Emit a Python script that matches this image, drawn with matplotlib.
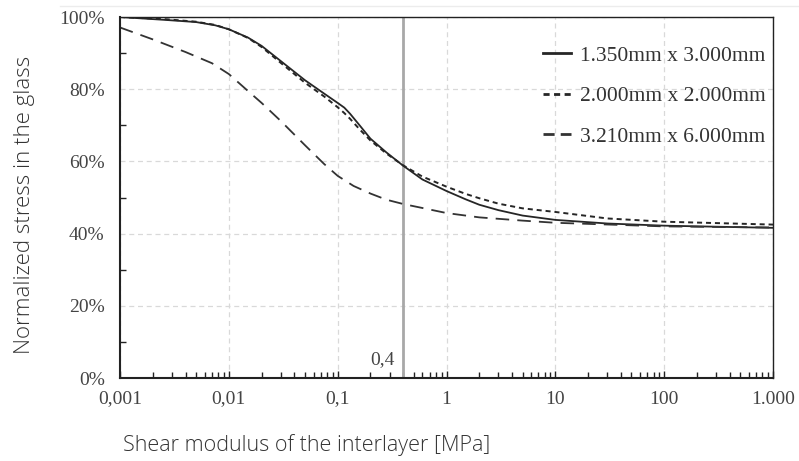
import matplotlib
matplotlib.use('Agg')
import matplotlib.pyplot as plt
from matplotlib.ticker import FixedLocator, LogLocator, NullFormatter
from matplotlib.lines import Line2D

# shear modulus of the interlayer [MPa]
g_ab = [0.001, 0.0026, 0.005, 0.0075, 0.01, 0.015, 0.02, 0.03, 0.05, 0.075, 0.1,
        0.115, 0.13, 0.16, 0.2, 0.28, 0.4, 0.6, 1, 1.5, 2, 3, 5, 10, 30, 100, 1000]
# normalized stress in the glass [%]
s_135x300 = [100, 99.2, 98.6, 97.7, 96.6, 94.3, 92.0, 87.8, 82.5, 78.8, 76.2,
             74.9, 73.2, 69.9, 66.3, 62.5, 58.8, 55.0, 51.8, 49.5, 48.0, 46.5,
             45.0, 43.8, 42.8, 42.2, 41.6]
s_200x200 = [100, 99.4, 98.7, 97.8, 96.6, 94.2, 91.7, 87.3, 81.8, 78.0, 75.0,
             73.4, 71.8, 68.8, 65.8, 62.2, 58.9, 55.8, 53.0, 51.0, 49.8, 48.3,
             47.0, 46.0, 44.2, 43.3, 42.5]
g_c = [0.001, 0.002, 0.004, 0.007, 0.01, 0.015, 0.02, 0.03, 0.05, 0.075, 0.1,
       0.14, 0.2, 0.28, 0.4, 0.6, 1, 2, 5, 10, 100, 1000]
s_321x600 = [97.1, 93.8, 90.3, 87.2, 84.2, 79.5, 76.2, 71.2, 64.5, 59.3, 56.0,
             53.2, 51.1, 49.4, 48.2, 47.1, 45.7, 44.5, 43.6, 43.0, 42.0, 41.7]

labels = ['1.350mm x 3.000mm', '2.000mm x 2.000mm', '3.210mm x 6.000mm']
x_ticks = [0.001, 0.01, 0.1, 1, 10, 100, 1000]
x_ticklabels = ['0,001', '0,01', '0,1', '1', '10', '100', '1.000']
y_ticks = [0, 20, 40, 60, 80, 100]
y_ticklabels = ['0%', '20%', '40%', '60%', '80%', '100%']
g_mark = 0.4

serif = 'Liberation Serif'
sans = 'Open Sans'

fig = plt.figure(figsize=(7.99, 4.61), dpi=100)
ax = fig.add_axes([0.1502, 0.180, 0.8173, 0.7831])

lc = '#262626'
ax.plot(g_ab, s_135x300, color=lc, lw=1.3, label=labels[0])
ax.plot(g_ab, s_200x200, color=lc, lw=1.4, linestyle=(0, (2.6, 2.0)), label=labels[1])
ax.plot(g_c, s_321x600, color='#333333', lw=1.3, linestyle=(0, (7.5, 4.5)), label=labels[2])

ax.axvline(g_mark, color='#a8a8a8', lw=2, zorder=1)
ax.text(0.337, 2.8, '0,4', fontfamily=serif, fontsize=14, color='#444444',
        ha='right', va='bottom')

ax.set_xscale('log')
ax.set_xlim(0.001, 1000)
ax.set_ylim(0, 100)
ax.xaxis.set_major_locator(FixedLocator(x_ticks))
ax.set_xticklabels(x_ticklabels)
ax.xaxis.set_minor_locator(LogLocator(base=10, subs=range(2, 10), numticks=20))
ax.xaxis.set_minor_formatter(NullFormatter())
ax.yaxis.set_major_locator(FixedLocator(y_ticks))
ax.set_yticklabels(y_ticklabels)
ax.yaxis.set_minor_locator(FixedLocator([10, 30, 50, 70, 90]))

ax.tick_params(axis='both', which='both', direction='in', colors='#222222',
               labelcolor='#444444', top=False, right=False)
ax.tick_params(axis='x', which='major', length=5, width=1, pad=9)
ax.tick_params(axis='x', which='minor', length=4, width=1)
ax.tick_params(axis='y', which='major', length=0, pad=11)
ax.tick_params(axis='y', which='minor', length=4, width=1)
for lab in ax.get_xticklabels() + ax.get_yticklabels():
    lab.set_fontfamily(serif)
    lab.set_fontsize(14)

for side in ['left', 'bottom']:
    ax.spines[side].set_linewidth(1.5)
    ax.spines[side].set_color('#222222')
for side in ['top', 'right']:
    ax.spines[side].set_linewidth(1.0)
    ax.spines[side].set_color('#222222')

ax.grid(True, which='major', color='#d9d9d9', linestyle=(0, (4, 3)), lw=0.9)
ax.set_axisbelow(True)

# axis titles placed in figure coordinates like the original
fig.text(25 / 799, 1 - 205 / 461, 'Normalized stress in the glass', rotation=90,
         fontfamily=sans, fontweight='light', fontsize=16, color='#333333',
         ha='center', va='center')
fig.text(123 / 799, 1 - 445 / 461, 'Shear modulus of the interlayer [MPa]',
         fontfamily=sans, fontweight='light', fontsize=15.5, color='#333333',
         ha='left', va='center')

leg = ax.legend(loc='upper right', frameon=False, handlelength=1.3, handletextpad=0.42,
                labelspacing=0.95, borderaxespad=0, bbox_to_anchor=(1.002, 0.945),
                prop={'family': serif, 'size': 15.5})
for t in leg.get_texts():
    t.set_color('#333333')
handles = leg.get_lines()
for h in handles:
    h.set_linewidth(2)
handles[1].set_linestyle((0, (2.2, 1.6)))
handles[2].set_linestyle((0, (4.0, 2.2)))

# faint rule along the top of the image
fig.add_artist(Line2D([0.075, 1.0], [0.987, 0.987], transform=fig.transFigure,
                      color='#ececec', lw=1))

fig.savefig('out.png', dpi=100)
